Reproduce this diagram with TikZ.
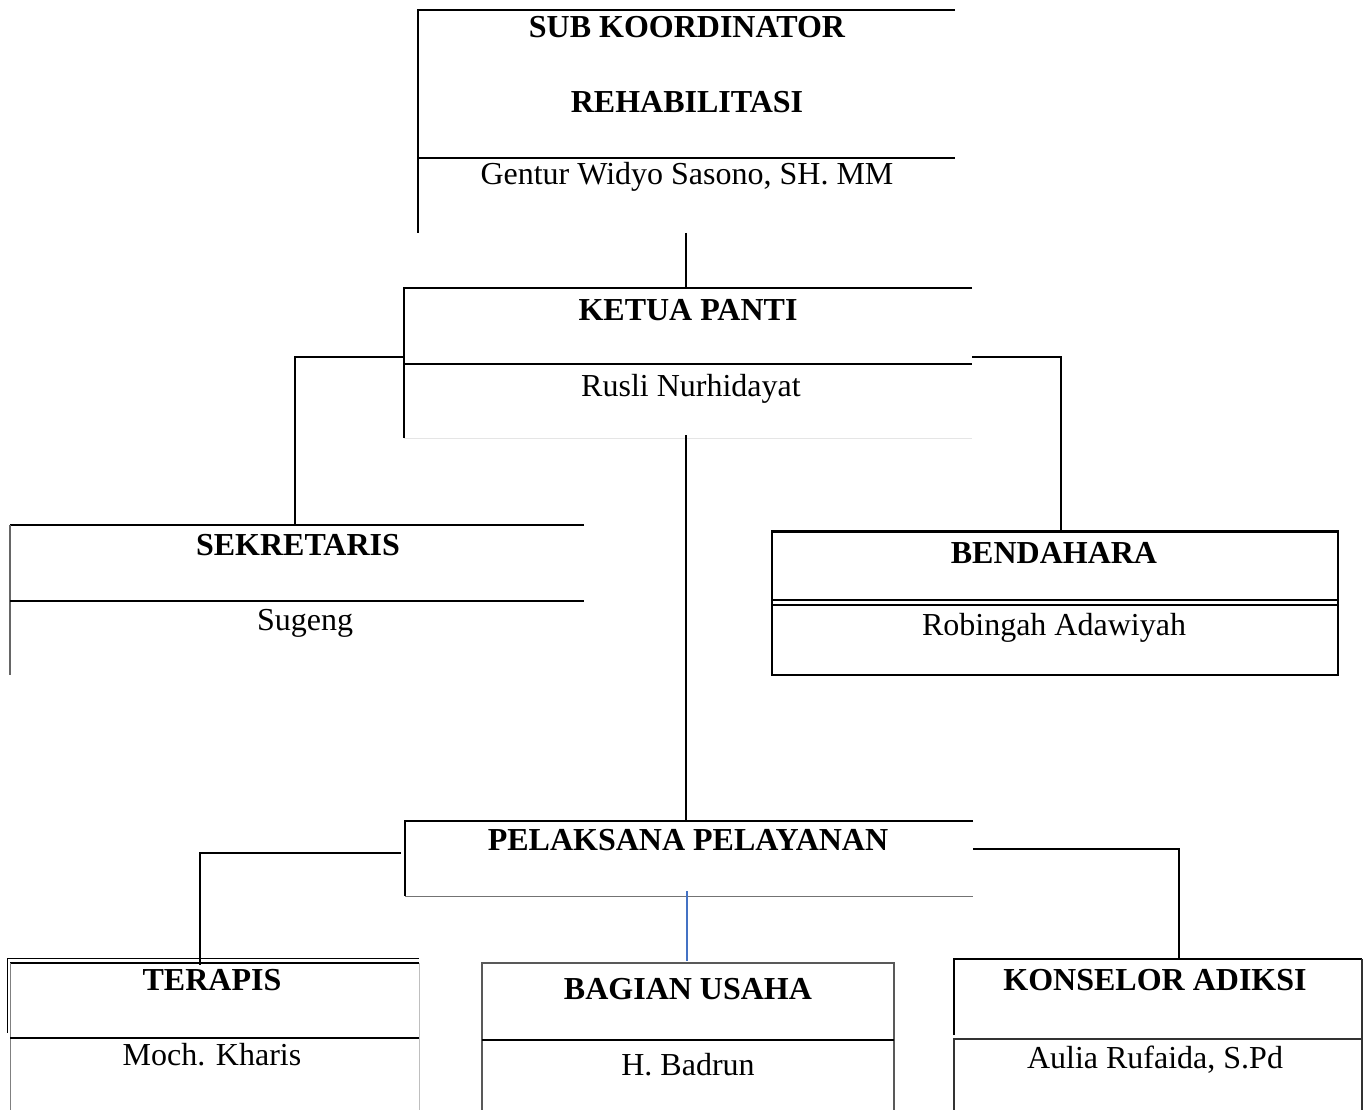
\documentclass[tikz,border=0pt]{standalone}
\usepackage{fontspec}
\setmainfont{Liberation Serif}
\usetikzlibrary{calc}

\tikzset{
  jabatan/.style={font=\fontsize{32}{38}\selectfont\bfseries, anchor=base, inner sep=0pt},
  nama/.style={font=\fontsize{32}{38}\selectfont, anchor=base, inner sep=0pt},
  garis/.style={line width=2pt, color=black},
  garistipis/.style={line width=1pt, color=black!55},
  garispudar/.style={line width=1pt, color=black!10},
  hubung/.style={line width=1.6pt, color=black},
}
\definecolor{birugaris}{RGB}{68,114,196}

\begin{document}
\begin{tikzpicture}[x=1pt, y=-1pt]
			%%%%% START %%%%%
			\useasboundingbox (0,0) rectangle (1368,1110);
			
			% sub koordinator
			\draw[garis] (955,10) -- (418,10) -- (418,233);
			\draw[garis] (418,158) -- (955,158);
			\node[jabatan] (subkoor) at (687,38) {SUB KOORDINATOR};
			\node[jabatan] (rehab) at (687,113) {REHABILITASI};
			\node[nama] (gentur) at (687,185) {Gentur Widyo Sasono, SH. MM};
			\coordinate (subkoor-b) at (686,233);
			
			% ketua panti
			\draw[garis] (972,288) -- (404,288) -- (404,438);
			\draw[garis] (404,364) -- (972,364);
			\draw[garispudar] (404,438) -- (972,438);
			\node[jabatan] (ketua) at (688,320) {KETUA PANTI};
			\node[nama] (rusli) at (691,396) {Rusli Nurhidayat};
			\coordinate (ketua-t) at (686,288);
			\coordinate (ketua-l) at (404,357);
			\coordinate (ketua-r) at (972,357);
			\coordinate (ketua-b) at (686,435);
			
			% sekretaris
			\draw[garis] (584,525) -- (10,525);
			\draw[line width=2pt, color=black!60] (10,525) -- (10,675);
			\draw[garis] (10,601) -- (584,601);
			\node[jabatan] (sekre) at (298,555) {SEKRETARIS};
			\node[nama] (sugeng) at (305,630) {Sugeng};
			\coordinate (sekre-t) at (295,525);
			
			% bendahara
			\draw[line width=1.4pt] (772,531) rectangle (1338,675);
			\draw[line width=3pt] (772,531) -- (1338,531);
			\draw[line width=1.2pt] (772,600) -- (1338,600);
			\draw[line width=1.2pt] (772,605) -- (1338,605);
			\node[jabatan] (benda) at (1054,563) {BENDAHARA};
			\node[nama] (robingah) at (1054,635) {Robingah Adawiyah};
			\coordinate (benda-t) at (1061,531);
			
			% pelaksana pelayanan
			\draw[garis] (973,821) -- (405,821) -- (405,896);
			\draw[garistipis] (405,896) -- (973,896);
			\node[jabatan] (pelaksana) at (688,850) {PELAKSANA PELAYANAN};
			\coordinate (pelaksana-t) at (686,821);
			\coordinate (pelaksana-l) at (401,853);
			\coordinate (pelaksana-r) at (973,849);
			\coordinate (pelaksana-b) at (687,891);
			
			% terapis
			\draw[line width=1pt] (419,958) -- (7,958) -- (7,1033);
			\draw[line width=2.5pt] (10,963) -- (419,963);
			\draw[line width=1pt, color=black!50] (10,963) -- (10,1110);
			\draw[line width=1pt, color=black!25] (419,963) -- (419,1110);
			\draw[garis] (10,1038) -- (419,1038);
			\node[jabatan] (terapis) at (212,990) {TERAPIS};
			\node[nama] (kharis) at (212,1065) {Moch. Kharis};
			\coordinate (terapis-t) at (200,965);
			
			% bagian usaha
			\draw[line width=2pt, color=black!65] (482,1110) -- (482,963) -- (894,963) -- (894,1110);
			\draw[garis] (482,1040) -- (894,1040);
			\node[jabatan] (usaha) at (688,999) {BAGIAN USAHA};
			\node[nama] (badrun) at (688,1075) {H. Badrun};
			\coordinate (usaha-t) at (687,961);
			
			% konselor adiksi
			\draw[line width=2.5pt] (954,1035) -- (954,959) -- (1362,959);
			\draw[line width=1.2pt, color=black!80] (1362,959) -- (1362,1110);
			\draw[line width=1.2pt, color=black!80] (954,1110) -- (954,1039) -- (1362,1039);
			\node[jabatan] (konselor) at (1155,990) {KONSELOR ADIKSI};
			\node[nama] (aulia) at (1155,1068) {Aulia Rufaida, S.Pd};
			\coordinate (konselor-t) at (1179,959);
			
			% penghubung
			\draw[hubung] (subkoor-b) -- (ketua-t);
			\draw[hubung] (ketua-l) -| (sekre-t);
			\draw[hubung] (ketua-r) -| (benda-t);
			\draw[hubung] (ketua-b) -- (pelaksana-t);
			\draw[hubung] (pelaksana-l) -| (terapis-t);
			\draw[hubung] (pelaksana-r) -| (konselor-t);
			\draw[line width=2pt, color=birugaris] (pelaksana-b) -- (usaha-t);
			
			%%%%% END %%%%%
\end{tikzpicture}
\end{document}
